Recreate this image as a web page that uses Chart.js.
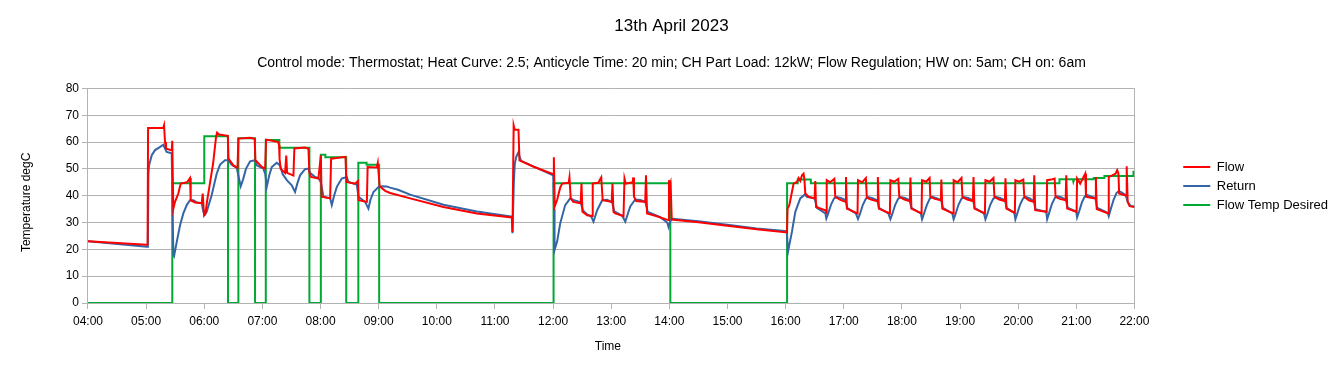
<!DOCTYPE html>
<html><head><meta charset="utf-8">
<script src="https://cdn.jsdelivr.net/npm/chart.js@4.4.0/dist/chart.umd.min.js"></script>
<style>html,body{margin:0;padding:0;background:#fff;} #wrap{width:1343px;height:372px;position:relative;}</style>
</head><body><div id="wrap"><canvas id="c"></canvas></div>
<script>
// time = minutes since midnight, value = degC
const flow = [[240,23.0],[300.5,21.7],[301.5,21.8],[302,65.2],[317.7,65.2],[318.5,66.2],[319.5,60],[320.5,57.6],[326.4,56.9],[327,60.5],[328,35],[329.8,37.7],[333.2,40.8],[335.7,44.5],[342.2,45],[343.8,45.8],[345.3,46.6],[346,38.3],[350.5,37.5],[357.4,37.2],[358.4,40.8],[359.8,32.7],[361.3,33.5],[362.9,38],[366,45],[369.1,52],[372.2,62],[373.2,63.5],[375.3,62.8],[384.3,62.3],[385,53.8],[390,51.3],[394.3,50.4],[395.2,61.3],[407.3,61.6],[412,61.2],[412.8,53.2],[419.4,50.7],[422.8,50.1],[423.8,60.9],[430,60.5],[436.2,60],[437.2,58.8],[437.7,53.8],[438.8,50],[443.4,48.5],[444.6,55],[445.5,48.5],[452,47.5],[453,57.6],[464,58],[467.5,57.5],[468.5,48.5],[470.2,47],[477.8,46.4],[480.3,55],[481.1,39.6],[489.9,39],[490.9,53.8],[505.7,54.5],[506.7,45.1],[515.7,44.5],[518.5,45.5],[519.2,38.3],[527.8,37.7],[528.6,50.7],[538.1,50.5],[539.1,52.2],[541,43.5],[546.7,41.8],[551.8,41],[572.5,39],[606.9,35.8],[641.3,33.4],[677.5,31.9],[678.1,26.5],[679.3,66.2],[680.4,64.6],[684.3,64.6],[685.3,53.2],[700,50.8],[720.1,48],[720.8,54.3],[721.7,36],[724.2,38.5],[727.3,43],[729.4,44.5],[736.1,44.8],[736.9,46.8],[738.2,39],[740.8,37.7],[748.5,37.2],[749.3,44.5],[750.3,34],[755.2,32.7],[760.4,32.4],[760.9,44.5],[766.6,44.8],[769.7,46.8],[771.2,38.3],[780.5,37.7],[781.3,44.5],[782.3,34],[784.1,33.4],[792.7,32.4],[793.7,46.4],[795,44.5],[802.2,45],[802.7,46.8],[803.5,39.6],[805.8,38],[815.1,37.7],[815.9,47.6],[817,33.4],[825.4,32.5],[838.9,30.9],[839.6,45.8],[840.2,44],[841.2,45],[842.5,31.1],[870,30.1],[899.8,28.8],[930,27.5],[961.4,26.3],[962,35.2],[963.8,36.5],[966.5,41.4],[968.2,44.5],[971.7,45.1],[973.4,46.6],[975.1,45.5],[976.9,47.6],[978.5,48.2],[979.4,46],[980.3,40.8],[983.7,39.6],[989.9,39],[990.6,45.5],[991.4,35.8],[1001,34.6],
[1002,33.6],[1002.4,45.8],[1006,45],[1010.3,46.3],[1011.2,39.6],[1016,38.5],[1021.7,37.7],[1022.3,47],[1023.2,35.2],[1034.2,33.4],
[1034.7,45.8],[1039,45],[1042.8,46.6],[1043.8,39.2],[1049,38.5],[1054.6,37.9],[1055.2,47],[1056.2,35.2],[1067.6,33.4],
[1068.1,45.8],[1072,45.2],[1076.3,46.3],[1077.3,39.6],[1082.6,38.6],[1088.2,38],[1088.8,46.8],[1089.8,35.2],[1100.3,33.4],
[1100.8,45.8],[1105,45.2],[1108.6,46.6],[1109.3,39.6],[1114,38.8],[1120.2,38.3],[1120.7,46],[1121.7,35.2],[1132.9,33.4],
[1133.4,45.8],[1137.5,45],[1141.5,46.6],[1142.5,39.5],[1147.5,38.6],[1153.3,38],[1153.9,47],[1154.9,35.2],[1165.7,33.4],
[1166.2,45.8],[1170.5,45.2],[1174.5,46.6],[1175.5,39.6],[1180.5,38.6],[1186.3,38],[1186.9,46.5],[1187.9,35.2],[1196.6,33.6],
[1197.1,45.8],[1201,45.2],[1205.3,46],[1206.3,39.6],[1211,38.3],[1216,37.7],[1216.6,47.6],[1217.6,34.6],[1229.4,34],
[1229.9,45.8],[1234,46],[1237.6,46.4],[1238.6,39.6],[1243,38.8],[1249,38.3],[1249.6,47.6],[1250.6,35.2],[1260.3,34],
[1260.8,46.4],[1264,44.5],[1267.5,47],[1269.2,48.2],[1270,39.6],[1275,39.2],[1279.5,39],[1280.2,47],[1281.1,35],[1293,33.4],
[1293.5,47],[1297,47.6],[1300.5,48.2],[1302.2,49.5],[1303.5,48.2],[1304.2,40.8],[1310,40.2],[1311.5,40.2],[1312,51],[1313,37.7],[1315,36.1],[1320,35.8]];

const ret = [[240,23.0],[301,21.0],[301.8,21.4],[302.3,48],[303,51.3],[305.8,55.1],[309.2,57],[314.5,58.2],[317.7,59],[319.5,57.6],[321.2,56.3],[326.4,55.8],[327.3,35],[328.1,18],[328.8,17.5],[331.6,22.8],[335,29],[338.4,33.4],[341.9,36.5],[345.3,38.3],[348.7,38.3],[352.2,37.5],[357.4,37.2],[359.1,34],[360.7,33],[362.5,34],[367.6,40.2],[372.8,48.2],[376.3,51.6],[381.4,53.2],[384.9,53.2],[388.3,51.5],[393.5,50.4],[395.5,47],[397.6,43.5],[400,46],[403,50],[407.3,52.8],[412.4,53.2],[414.2,51.3],[421,50.1],[423,48],[424.5,43.3],[427,47.5],[429.7,50.7],[434.8,52.3],[438.2,51.3],[441,48],[445.2,45.8],[450.3,43.9],[453.7,41.4],[456,44.5],[458.9,47.6],[464,49.9],[467.5,50.1],[469.2,48.5],[474.4,47],[477.8,46.6],[480.3,45],[483,39.6],[489.9,39],[491.6,36.5],[494,40],[496.8,43.3],[501.9,46.4],[507.1,47],[508.8,45.1],[517.4,44.2],[519.1,39.6],[526,37.7],[529.4,35.2],[531.5,38.5],[534.6,41.4],[539.7,43.2],[543.2,43.5],[548.4,43.4],[551.8,43],[560,42.2],[572.5,40.4],[606.9,36.6],[641.3,34.1],[677.5,32.2],[678.1,26],[679.5,45],[680.5,52],[682,54.5],[684.3,56.3],[685.5,54.5],[687,53],[720.1,47.6],[721,35],[721.5,19.7],[724.2,23],[727.3,29.6],[732.5,36.5],[737.7,39],[740.8,38.4],[748.5,37.5],[750.8,34.5],[755.2,33],[759.4,32.2],[761.7,30.3],[765.5,34.6],[770.7,38.3],[775.9,38.5],[781,37.5],[783.1,34.2],[791.4,32.5],[794.5,30.3],[799.6,36],[804.8,38.6],[809.9,38.4],[815.1,37.7],[817.7,34],[830.6,32],[837.8,30],[839.2,28.3],[840.9,30.5],[843,31.4],[870,30.5],[899.8,29.2],[930,27.8],[961.2,26.8],[962.4,19.1],[966.5,26.5],[970,34],[975.1,39],[979.6,40.4],[982,39.6],[989.9,39],[992.4,35.5],[1001,33.4],
[1002,31.5],[1004,33.5],[1007,36.8],[1010,39],[1012.5,39.5],[1017,39.2],[1022,38.3],[1023.5,35.5],[1032.5,33.4],
[1034.7,31.3],[1036.7,33.2],[1039.7,36.6],[1042.7,38.8],[1045.2,39.5],[1049.7,39.1],[1054.7,38.2],[1056.3,35.5],[1066,33.4],
[1068.1,31.3],[1070.1,33.2],[1073.1,36.6],[1076.1,38.8],[1078.6,39.5],[1083,39.2],[1088,38.3],[1089.7,35.5],[1099.5,33.4],
[1100.8,31.2],[1102.8,33.3],[1105.8,36.6],[1108.8,38.9],[1111.3,39.6],[1115.8,39.1],[1120.5,38.3],[1122.3,35.5],[1132,33.4],
[1133.4,31.2],[1135.4,33.2],[1138.4,36.6],[1141.4,38.8],[1143.9,39.5],[1148.4,39.2],[1153.6,38.2],[1155,35.5],[1164.7,33.4],
[1166.2,31.2],[1168.2,33.2],[1171.2,36.6],[1174.2,38.8],[1176.7,39.6],[1181.2,39.2],[1186.5,38.3],[1188,35.5],[1196,33.6],
[1197.1,31.2],[1199.1,33.4],[1202.1,36.8],[1205.1,39],[1207.6,39.6],[1212,39],[1216.2,37.9],[1217.8,35],[1229,34],
[1229.9,31.3],[1231.9,33.5],[1234.9,37],[1237.9,39.2],[1240.4,39.8],[1245,39.4],[1249.3,38.4],[1251,35.5],[1260,34],
[1260.8,31.9],[1262.8,34],[1265.8,37.5],[1268.8,39.8],[1271.3,40.2],[1275.8,39.6],[1279.7,39.1],[1281.3,35.5],[1292.5,33.6],
[1293.5,32.4],[1295.5,35],[1298.5,38.5],[1301.5,41],[1304,41.8],[1307,41.2],[1311,40.2],[1313.2,37.5],[1316,36.2],[1320,36]];

const desired = [[240,0],[327,0],[327,44.6],[360,44.6],[360,62.2],[384.5,62.2],[384.5,0],[395.2,0],[395.2,61.4],[412.4,61.4],[412.4,0],[423.5,0],[423.5,60.8],[437.5,60.8],[437.5,57.9],[468.5,57.9],[468.5,0],[480.3,0],[480.3,55.3],[485,55.3],[485,54.3],[506.5,54.3],[506.5,0],[519,0],[519,52.3],[527.5,52.3],[527.5,51.5],[540.5,51.5],[540.5,0],[720.5,0],[720.5,44.6],[841,44.6],[841,0],[961.5,0],[961.5,44.6],[972.5,44.6],[972.5,46],[986,46],[986,44.6],[1242.6,44.6],[1242.6,46.1],[1256.5,46.1],[1257,45.2],[1257.8,46.1],[1278,46.1],[1278,46.6],[1289,46.6],[1289,47.3],[1319,47.3],[1319,48.9],[1320,48.9]];

const timeTicks = ['04:00','05:00','06:00','07:00','08:00','09:00','10:00','11:00','12:00','13:00','14:00','15:00','16:00','17:00','18:00','19:00','20:00','21:00','22:00'];
const seriesNames = ['Flow','Return','Flow Temp Desired'];
const chartTitle = '13th April 2023';
const chartSubtitle = 'Control mode: Thermostat; Heat Curve: 2.5; Anticycle Time: 20 min; CH Part Load: 12kW; Flow Regulation; HW on: 5am; CH on: 6am';

const toXY = a => a.map(p => ({x: p[0], y: p[1]}));
const GRID = '#b3b3b3';
Chart.defaults.font.family = "'Liberation Sans', Arial, sans-serif";
Chart.defaults.color = '#000';

new Chart(document.getElementById('c'), {
  type: 'line',
  data: { datasets: [
    {label: seriesNames[0], data: toXY(flow), borderColor: '#ff0000', backgroundColor: '#ff0000', borderWidth: 2, pointRadius: 0, tension: 0, order: 0},
    {label: seriesNames[1], data: toXY(ret), borderColor: '#3465a4', backgroundColor: '#3465a4', borderWidth: 2, pointRadius: 0, tension: 0, order: 1},
    {label: seriesNames[2], data: toXY(desired), borderColor: '#00a933', backgroundColor: '#00a933', borderWidth: 2, pointRadius: 0, tension: 0, order: 2}
  ]},
  options: {
    responsive: true, maintainAspectRatio: false, animation: false, devicePixelRatio: 1,
    layout: {padding: {left: 5, right: 5, top: 10, bottom: 10}},
    plugins: {
      title: {display: true, text: chartTitle, color: '#000', font: {size: 17, weight: 'normal'}, padding: {top: 5.8, bottom: 18.5}},
      subtitle: {display: true, text: chartSubtitle, color: '#000', font: {size: 14, weight: 'normal'}, padding: {top: 0, bottom: 16.9}},
      legend: {position: 'right', labels: {usePointStyle: true, pointStyle: 'line', pointStyleWidth: 27, boxHeight: 13, padding: 6, color: '#000', font: {size: 13}}},
      tooltip: {enabled: false}
    },
    scales: {
      x: {type: 'linear', min: 240, max: 1320,
        ticks: {stepSize: 60, autoSkip: false, maxRotation: 0, padding: 5, font: {size: 12}, callback: (v, i) => timeTicks[i]},
        grid: {color: ctx => (ctx.tick && ctx.tick.value === 1320) ? GRID : 'rgba(0,0,0,0)', tickColor: GRID, tickLength: 6},
        border: {color: GRID},
        title: {display: true, text: 'Time  ', font: {size: 12}, padding: {top: 5.8, bottom: 8.4}}},
      y: {min: 0, max: 80,
        ticks: {stepSize: 10, padding: 3, font: {size: 12}},
        grid: {color: GRID, tickColor: GRID, tickLength: 6},
        border: {color: GRID},
        title: {display: true, text: 'Temperature degC    ', font: {size: 12}, padding: {top: 14.8, bottom: 28.45}}},
      yR: {position: 'right', display: true,
        grid: {display: false, drawTicks: false}, border: {display: false}, ticks: {display: false},
        title: {display: true, text: '', font: {size: 10}, padding: {top: 30.8, bottom: 0}}}
    }
  }
});
</script></body></html>
